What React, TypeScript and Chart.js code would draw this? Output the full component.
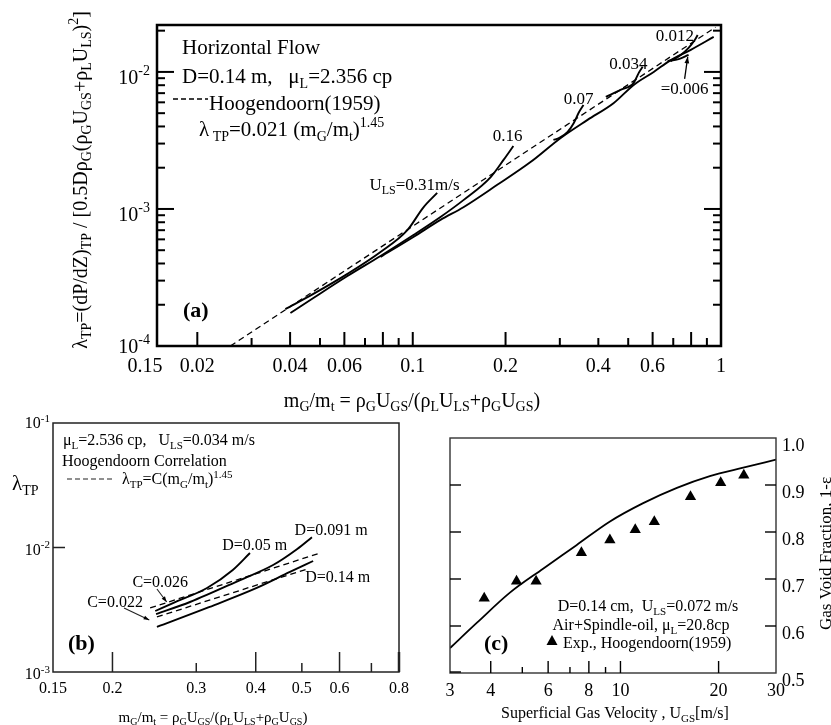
import React, { useEffect, useRef } from 'react';
import { Chart, registerables } from 'chart.js';
Chart.register(...registerables);

const SERIF = '"Liberation Serif","Times New Roman",Times,serif';
type Pt = [number, number];

// ---------------- Panel (a) ----------------
const aXRange: Pt = [0.0148, 1];
const aYRange: Pt = [1e-4, 0.022];
const aCorr: Pt[] = [[0.0256, 1.0e-4], [0.96, 0.0212]];
const aU031: Pt[] = [[0.0386, 1.86e-4], [0.0476, 2.40e-4], [0.0614, 3.36e-4], [0.0786, 4.85e-4], [0.0962, 7.03e-4], [0.108, 1.02e-3], [0.120, 1.31e-3]];
const aU016: Pt[] = [[0.0401, 1.74e-4], [0.0476, 2.24e-4], [0.0614, 3.24e-4], [0.0786, 4.54e-4], [0.1005, 6.46e-4], [0.123, 8.74e-4], [0.146, 1.16e-3], [0.179, 1.71e-3], [0.197, 2.28e-3], [0.212, 2.88e-3]];
const aMain: Pt[] = [[0.0786, 4.47e-4], [0.1005, 6.25e-4], [0.123, 8.32e-4], [0.146, 1.03e-3], [0.188, 1.50e-3], [0.241, 2.20e-3], [0.302, 3.30e-3], [0.369, 4.47e-3], [0.449, 5.94e-3], [0.521, 8.04e-3], [0.605, 1.0e-2], [0.687, 1.22e-2], [0.798, 1.45e-2], [0.947, 1.80e-2]];
const aU007: Pt[] = [[0.286, 3.19e-3], [0.299, 3.30e-3], [0.318, 3.65e-3], [0.333, 4.24e-3], [0.345, 5.02e-3], [0.358, 5.74e-3]];
const aU0034: Pt[] = [[0.423, 6.57e-3], [0.472, 7.39e-3], [0.521, 8.31e-3], [0.541, 9.84e-3], [0.557, 1.09e-2]];
const aU0012: Pt[] = [[0.687, 1.20e-2], [0.740, 1.33e-2], [0.785, 1.50e-2], [0.822, 1.71e-2], [0.840, 1.86e-2]];
const aU0006: Pt[] = [[0.671, 1.20e-2], [0.729, 1.24e-2], [0.785, 1.33e-2]];
const aArrow006: Pt[] = [[0.762, 8.89e-3], [0.780, 1.29e-2]];
const aXMajorTicks = [0.02, 0.04, 0.06, 0.08, 0.1, 0.2, 0.6, 0.8];
const aXMinorTicks = [0.03, 0.05, 0.07, 0.09, 0.3, 0.4, 0.5, 0.7, 0.9];
const aYMajorTicks = [1e-3, 1e-2];
const aYMinorTicks = [2e-4, 3e-4, 4e-4, 5e-4, 6e-4, 7e-4, 8e-4, 9e-4, 2e-3, 3e-3, 4e-3, 5e-3, 6e-3, 7e-3, 8e-3, 9e-3, 2e-2];
const aXTickLabels = ['0.15', '0.02', '0.04', '0.06', '0.1', '0.2', '0.4', '0.6', '1'];
const aXTickLabelVals = [0.0148, 0.02, 0.04, 0.06, 0.1, 0.2, 0.4, 0.6, 1];
const aYTickLabels = ['10^{-4}', '10^{-3}', '10^{-2}'];
const aYTickLabelVals = [1e-4, 1e-3, 1e-2];
const aCurveLabels = ['U_{LS}=0.31m/s', '0.16', '0.07', '0.034', '0.012', '=0.006'];
const aCurveLabelAt: Pt[] = [[0.1013, 1.50e-3], [0.203, 3.47e-3], [0.345, 6.46e-3], [0.501, 1.16e-2], [0.708, 1.86e-2], [0.762, 7.52e-3]];

// ---------------- Panel (b) ----------------
const bXRange: Pt = [0.15, 0.8];
const bYRange: Pt = [1e-3, 1e-1];
const bD005: Pt[] = [[0.246, 3.09e-3], [0.268, 3.58e-3], [0.316, 4.73e-3], [0.358, 6.60e-3], [0.389, 9.03e-3]];
const bD0091: Pt[] = [[0.247, 2.92e-3], [0.291, 3.65e-3], [0.371, 5.48e-3], [0.435, 7.23e-3], [0.489, 9.73e-3], [0.525, 1.21e-2]];
const bD014: Pt[] = [[0.248, 2.30e-3], [0.316, 3.27e-3], [0.402, 4.73e-3], [0.472, 6.36e-3], [0.528, 7.79e-3]];
const bC026: Pt[] = [[0.240, 3.27e-3], [0.546, 9.03e-3]];
const bC022: Pt[] = [[0.248, 2.77e-3], [0.513, 6.72e-3]];
const bXLongTicks = [0.2, 0.4, 0.6];
const bXShortTicks = [0.3, 0.5, 0.7];
const bYTicks = [1e-2];
const bXTickLabels = ['0.15', '0.2', '0.3', '0.4', '0.5', '0.6', '0.8'];
const bXTickLabelVals = [0.15, 0.2, 0.3, 0.4, 0.5, 0.6, 0.8];
const bYTickLabels = ['10^{-3}', '10^{-2}', '10^{-1}'];
const bYTickLabelVals = [1e-3, 1e-2, 1e-1];
const bCurveLabels = ['D=0.05 m', 'D=0.091 m', 'D=0.14 m', 'C=0.026', 'C=0.022'];
const bCurveLabelAt: Pt[] = [[0.398, 1.05e-2], [0.576, 1.38e-2], [0.595, 5.79e-3], [0.252, 5.28e-3], [0.2025, 3.65e-3]];
const bArrow026: Pt[] = [[0.248, 4.64e-3], [0.260, 3.65e-3]];
const bArrow022: Pt[] = [[0.2115, 3.27e-3], [0.239, 2.62e-3]];

// ---------------- Panel (c) ----------------
const cXRange: Pt = [3, 30];
const cYRange: Pt = [0.5, 1.0];
const cModelX = [3, 3.63, 4.58, 5.79, 7.33, 9.26, 11.7, 14.9, 18.8, 23.8, 30];
const cModelY = [0.553, 0.607, 0.671, 0.722, 0.772, 0.822, 0.861, 0.894, 0.919, 0.937, 0.954];
const cExpX = [3.82, 4.80, 5.51, 7.59, 9.28, 11.1, 12.7, 16.4, 20.3, 23.9];
const cExpY = [0.659, 0.695, 0.695, 0.756, 0.783, 0.805, 0.822, 0.875, 0.905, 0.921];
const cXLongTicks = [4, 6, 8, 10, 20];
const cXShortTicks = [5, 7, 9];
const cYTicks = [0.6, 0.7, 0.8, 0.9];
const cXTickLabels = ['3', '4', '6', '8', '10', '20', '30'];
const cXTickLabelVals = [3, 4, 6, 8, 10, 20, 30];
const cYTickLabels = ['0.5', '0.6', '0.7', '0.8', '0.9', '1.0'];
const cYTickLabelVals = [0.5, 0.6, 0.7, 0.8, 0.9, 1.0];

// ---------------- helpers ----------------
type Seg = { t: string; m: number };
function parseRich(s: string): Seg[] {
  const out: Seg[] = [];
  let buf = '';
  for (let i = 0; i < s.length; i++) {
    const c = s[i];
    if ((c === '_' || c === '^') && s[i + 1] === '{') {
      if (buf) { out.push({ t: buf, m: 0 }); buf = ''; }
      const j = s.indexOf('}', i + 2);
      out.push({ t: s.slice(i + 2, j), m: c === '_' ? 1 : 2 });
      i = j;
    } else buf += c;
  }
  if (buf) out.push({ t: buf, m: 0 });
  return out;
}

function drawRich(ctx: CanvasRenderingContext2D, s: string, x: number, y: number, size: number,
  align: 'left' | 'center' | 'right' = 'left', bold = false, rot = 0) {
  const segs = parseRich(s);
  const small = Math.round(size * 0.68);
  const font = (m: number) => `${bold ? 'bold ' : ''}${m ? small : size}px ${SERIF}`;
  let w = 0;
  const ws = segs.map((sg) => { ctx.font = font(sg.m); const v = ctx.measureText(sg.t).width; w += v; return v; });
  ctx.save();
  ctx.translate(x, y);
  if (rot) ctx.rotate(rot);
  ctx.textAlign = 'left';
  ctx.textBaseline = 'alphabetic';
  ctx.fillStyle = '#000';
  let cx = align === 'left' ? 0 : align === 'center' ? -w / 2 : -w;
  const base = size * 0.33;
  segs.forEach((sg, i) => {
    ctx.font = font(sg.m);
    const dy = sg.m === 1 ? size * 0.22 : sg.m === 2 ? -size * 0.42 : 0;
    ctx.fillText(sg.t, cx, base + dy);
    cx += ws[i];
  });
  ctx.restore();
}

function seg(ctx: CanvasRenderingContext2D, x1: number, y1: number, x2: number, y2: number) {
  ctx.beginPath(); ctx.moveTo(x1, y1); ctx.lineTo(x2, y2); ctx.stroke();
}

function arrow(ctx: CanvasRenderingContext2D, x1: number, y1: number, x2: number, y2: number, head = 6) {
  seg(ctx, x1, y1, x2, y2);
  const a = Math.atan2(y2 - y1, x2 - x1);
  ctx.beginPath();
  ctx.moveTo(x2, y2);
  ctx.lineTo(x2 - head * Math.cos(a - 0.35), y2 - head * Math.sin(a - 0.35));
  ctx.lineTo(x2 - head * Math.cos(a + 0.35), y2 - head * Math.sin(a + 0.35));
  ctx.closePath();
  ctx.fill();
}

const lineDs = (pts: Pt[], extra: any = {}) => ({
  data: pts.map(([x, y]) => ({ x, y })),
  showLine: true, borderColor: '#000', backgroundColor: '#000', borderWidth: 1.9,
  pointRadius: 0, cubicInterpolationMode: 'monotone', fill: false, ...extra,
});

function baseOptions(pad: any, xs: any, ys: any) {
  return {
    responsive: false,
    animation: false,
    events: [],
    layout: { padding: pad },
    plugins: { legend: { display: false }, tooltip: { enabled: false }, title: { display: false } },
    scales: { x: { ...xs, display: false }, y: { ...ys, display: false } },
  };
}

// ---------------- decorations ----------------
const decoA = {
  id: 'decoA',
  afterDatasetsDraw(chart: any) {
    const { ctx, chartArea: ca, scales } = chart;
    const X = (v: number) => scales.x.getPixelForValue(v);
    const Y = (v: number) => scales.y.getPixelForValue(v);
    ctx.save();
    ctx.strokeStyle = '#000'; ctx.fillStyle = '#000';
    ctx.lineWidth = 2.5;
    ctx.strokeRect(ca.left, ca.top, ca.right - ca.left, ca.bottom - ca.top);
    ctx.lineWidth = 2;
    aXMajorTicks.forEach((v) => seg(ctx, X(v), ca.bottom, X(v), ca.bottom - 14));
    aXMinorTicks.forEach((v) => seg(ctx, X(v), ca.bottom, X(v), ca.bottom - 8));
    aYMajorTicks.forEach((v) => { seg(ctx, ca.left, Y(v), ca.left + 17, Y(v)); seg(ctx, ca.right, Y(v), ca.right - 17, Y(v)); });
    aYMinorTicks.forEach((v) => { seg(ctx, ca.left, Y(v), ca.left + 8, Y(v)); seg(ctx, ca.right, Y(v), ca.right - 8, Y(v)); });
    aXTickLabels.forEach((t, i) => drawRich(ctx, t, X(aXTickLabelVals[i]) + (i === 0 ? -12 : 0), ca.bottom + 19, 20, 'center'));
    aYTickLabels.forEach((t, i) => drawRich(ctx, t, ca.left - 7, Y(aYTickLabelVals[i]) + (i === 0 ? 0 : 5), 20, 'right'));
    drawRich(ctx, 'm_{G}/m_{t} = ρ_{G}U_{GS}/(ρ_{L}U_{LS}+ρ_{G}U_{GS})', ca.left + 255, ca.bottom + 54, 20, 'center');
    drawRich(ctx, 'λ_{TP}=(dP/dZ)_{TP} / [0.5Dρ_{G}(ρ_{G}U_{GS}+ρ_{L}U_{LS})^{2}]', ca.left - 77, 180, 20, 'center', false, -Math.PI / 2);
    // legend block
    drawRich(ctx, 'Horizontal Flow', ca.left + 25, ca.top + 22, 21);
    drawRich(ctx, 'D=0.14 m,   μ_{L}=2.356 cp', ca.left + 25, ca.top + 51, 21);
    ctx.lineWidth = 1.5; ctx.setLineDash([5, 3]);
    seg(ctx, ca.left + 16, ca.top + 74, ca.left + 51, ca.top + 74);
    ctx.setLineDash([]);
    drawRich(ctx, 'Hoogendoorn(1959)', ca.left + 52, ca.top + 78, 21);
    drawRich(ctx, 'λ_{ TP}=0.021 (m_{G}/m_{t})^{1.45}', ca.left + 42, ca.top + 104, 21);
    drawRich(ctx, '(a)', ca.left + 26, ca.bottom - 36, 22, 'left', true);
    aCurveLabels.forEach((t, i) => drawRich(ctx, t, X(aCurveLabelAt[i][0]), Y(aCurveLabelAt[i][1]), 17, 'center'));
    ctx.lineWidth = 1.3;
    arrow(ctx, X(aArrow006[0][0]), Y(aArrow006[0][1]), X(aArrow006[1][0]), Y(aArrow006[1][1]), 7);
    ctx.restore();
  },
};

const decoB = {
  id: 'decoB',
  afterDatasetsDraw(chart: any) {
    const { ctx, chartArea: ca, scales } = chart;
    const X = (v: number) => scales.x.getPixelForValue(v);
    const Y = (v: number) => scales.y.getPixelForValue(v);
    ctx.save();
    ctx.strokeStyle = '#222'; ctx.fillStyle = '#000';
    ctx.lineWidth = 1.5;
    ctx.strokeRect(ca.left, ca.top, ca.right - ca.left, ca.bottom - ca.top);
    bXLongTicks.forEach((v) => seg(ctx, X(v), ca.bottom, X(v), ca.bottom - 20));
    bXShortTicks.forEach((v) => seg(ctx, X(v), ca.bottom, X(v), ca.bottom - 9));
    ctx.lineWidth = 2.5;
    seg(ctx, ca.right, ca.bottom, ca.right, ca.bottom - 20);
    ctx.lineWidth = 1.5;
    bYTicks.forEach((v) => seg(ctx, ca.left, Y(v), ca.left + 12, Y(v)));
    bXTickLabels.forEach((t, i) => drawRich(ctx, t, X(bXTickLabelVals[i]), ca.bottom + 16, 16, 'center'));
    bYTickLabels.forEach((t, i) => drawRich(ctx, t, ca.left - 3, Y(bYTickLabelVals[i]) + (i === 2 ? 0 : 2), 16, 'right'));
    drawRich(ctx, 'λ_{TP}', 12, (ca.top + ca.bottom) / 2 - 64, 21, 'left');
    drawRich(ctx, 'm_{G}/m_{t} = ρ_{G}U_{GS}/(ρ_{L}U_{LS}+ρ_{G}U_{GS})', (ca.left + ca.right) / 2 - 13, ca.bottom + 45, 15, 'center');
    drawRich(ctx, 'μ_{L}=2.536 cp,   U_{LS}=0.034 m/s', ca.left + 10, ca.top + 17, 16);
    drawRich(ctx, 'Hoogendoorn Correlation', ca.left + 9, ca.top + 38, 16);
    ctx.lineWidth = 1.2; ctx.setLineDash([5, 3]);
    seg(ctx, ca.left + 14, ca.top + 56, ca.left + 62, ca.top + 56);
    ctx.setLineDash([]);
    drawRich(ctx, 'λ_{TP}=C(m_{G}/m_{t})^{1.45}', ca.left + 69, ca.top + 56, 16);
    drawRich(ctx, '(b)', ca.left + 15, ca.bottom - 29, 22, 'left', true);
    bCurveLabels.forEach((t, i) => drawRich(ctx, t, X(bCurveLabelAt[i][0]), Y(bCurveLabelAt[i][1]), 16, 'center'));
    ctx.lineWidth = 1.1;
    arrow(ctx, X(bArrow026[0][0]), Y(bArrow026[0][1]), X(bArrow026[1][0]), Y(bArrow026[1][1]), 6);
    arrow(ctx, X(bArrow022[0][0]), Y(bArrow022[0][1]), X(bArrow022[1][0]), Y(bArrow022[1][1]), 6);
    ctx.restore();
  },
};

const decoC = {
  id: 'decoC',
  afterDatasetsDraw(chart: any) {
    const { ctx, chartArea: ca, scales } = chart;
    const X = (v: number) => scales.x.getPixelForValue(v);
    const Y = (v: number) => scales.y.getPixelForValue(v);
    ctx.save();
    ctx.strokeStyle = '#333'; ctx.fillStyle = '#000';
    ctx.lineWidth = 1.4;
    ctx.strokeRect(ca.left, ca.top, ca.right - ca.left, ca.bottom - ca.top);
    ctx.strokeStyle = '#000';
    cXLongTicks.forEach((v) => seg(ctx, X(v), ca.bottom, X(v), ca.bottom - 12));
    cXShortTicks.forEach((v) => seg(ctx, X(v), ca.bottom, X(v), ca.bottom - 6));
    cYTicks.forEach((v) => { seg(ctx, ca.left, Y(v), ca.left + 11, Y(v)); seg(ctx, ca.right, Y(v), ca.right - 11, Y(v)); });
    seg(ctx, ca.left, ca.bottom - 1, ca.left + 11, ca.bottom - 1);
    cXTickLabels.forEach((t, i) => drawRich(ctx, t, X(cXTickLabelVals[i]), ca.bottom + 17, 18, 'center'));
    cYTickLabels.forEach((t, i) => drawRich(ctx, t, ca.right + 6, Y(cYTickLabelVals[i]) + 7, 18, 'left'));
    drawRich(ctx, 'Superficial Gas Velocity , U_{GS}[m/s]', (ca.left + ca.right) / 2 + 2, ca.bottom + 40, 16, 'center');
    drawRich(ctx, 'Gas Void Fraction, 1-ε', ca.right + 49, (ca.top + ca.bottom) / 2 - 2, 17, 'center', false, -Math.PI / 2);
    drawRich(ctx, 'D=0.14 cm,  U_{LS}=0.072 m/s', ca.left + 198, ca.top + 168, 16, 'center');
    drawRich(ctx, 'Air+Spindle-oil, μ_{L}=20.8cp', ca.left + 191, ca.top + 187, 16, 'center');
    const tx = ca.left + 102, ty = ca.top + 203;
    ctx.beginPath();
    ctx.moveTo(tx, ty - 6); ctx.lineTo(tx + 5.5, ty + 4); ctx.lineTo(tx - 5.5, ty + 4); ctx.closePath(); ctx.fill();
    drawRich(ctx, 'Exp., Hoogendoorn(1959)', ca.left + 113, ca.top + 205, 16, 'left');
    drawRich(ctx, '(c)', ca.left + 34, ca.top + 205, 22, 'left', true);
    ctx.restore();
  },
};

export default function App() {
  const ra = useRef<HTMLCanvasElement>(null);
  const rb = useRef<HTMLCanvasElement>(null);
  const rc = useRef<HTMLCanvasElement>(null);

  useEffect(() => {
    const dash = { borderDash: [6, 4], borderWidth: 1.3, cubicInterpolationMode: 'default', tension: 0 };
    const chartA = new Chart(ra.current as HTMLCanvasElement, {
      type: 'scatter',
      data: {
        datasets: [
          lineDs(aCorr, dash),
          lineDs(aU031), lineDs(aU016), lineDs(aMain), lineDs(aU007),
          lineDs(aU0034), lineDs(aU0012), lineDs(aU0006),
        ],
      },
      options: baseOptions({ left: 157, top: 25, right: 110, bottom: 74 },
        { type: 'logarithmic', min: aXRange[0], max: aXRange[1] },
        { type: 'logarithmic', min: aYRange[0], max: aYRange[1] }) as any,
      plugins: [decoA],
    } as any);
    const chartB = new Chart(rb.current as HTMLCanvasElement, {
      type: 'scatter',
      data: {
        datasets: [
          lineDs(bC026, dash), lineDs(bC022, dash),
          lineDs(bD005), lineDs(bD0091), lineDs(bD014),
        ],
      },
      options: baseOptions({ left: 53, top: 13, right: 21, bottom: 53 },
        { type: 'logarithmic', min: bXRange[0], max: bXRange[1] },
        { type: 'logarithmic', min: bYRange[0], max: bYRange[1] }) as any,
      plugins: [decoB],
    } as any);
    const chartC = new Chart(rc.current as HTMLCanvasElement, {
      type: 'scatter',
      data: {
        datasets: [
          lineDs(cModelX.map((x, i) => [x, cModelY[i]] as Pt), { borderWidth: 1.8 }),
          {
            data: cExpX.map((x, i) => ({ x, y: cExpY[i] })),
            showLine: false, pointStyle: 'triangle', pointRadius: 6.5,
            backgroundColor: '#000', borderColor: '#000', borderWidth: 0,
          },
        ],
      },
      options: baseOptions({ left: 30, top: 28, right: 55, bottom: 52 },
        { type: 'logarithmic', min: cXRange[0], max: cXRange[1] },
        { type: 'linear', min: cYRange[0], max: cYRange[1] }) as any,
      plugins: [decoC],
    } as any);
    return () => { chartA.destroy(); chartB.destroy(); chartC.destroy(); };
  }, []);

  return (
    <div style={{ position: 'absolute', left: 0, top: 0, width: 831, height: 725, background: '#fff', overflow: 'hidden' }}>
      <canvas ref={ra} width={831} height={420} style={{ position: 'absolute', left: 0, top: 0 }} />
      <canvas ref={rb} width={420} height={315} style={{ position: 'absolute', left: 0, top: 410 }} />
      <canvas ref={rc} width={411} height={315} style={{ position: 'absolute', left: 420, top: 410 }} />
    </div>
  );
}
